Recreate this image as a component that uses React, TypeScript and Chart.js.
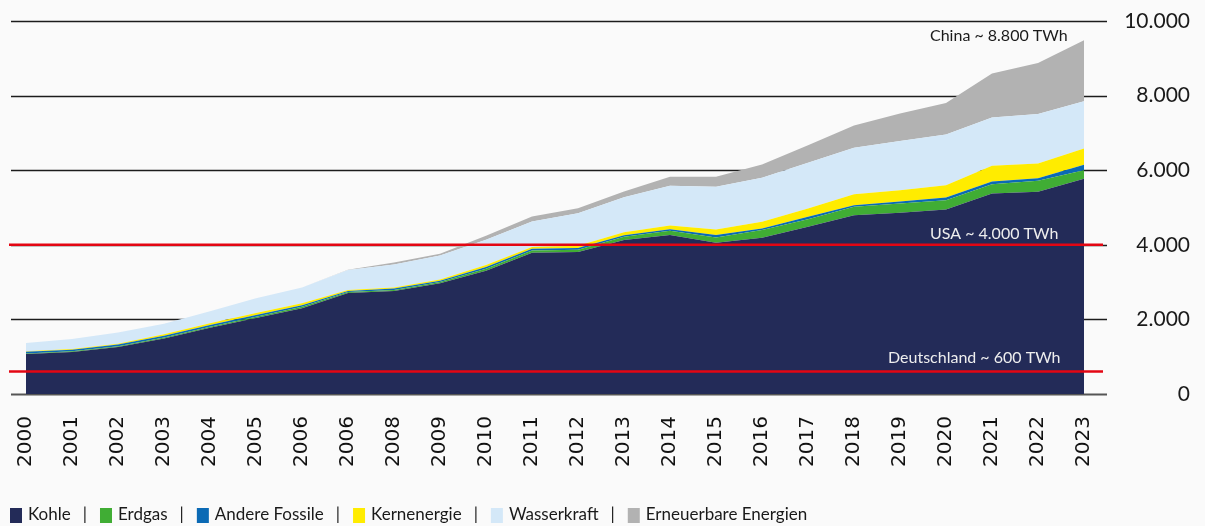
import React, { useEffect, useRef } from "react";
import { Chart, registerables } from "chart.js";

Chart.register(...registerables);

// ---- Data (TWh) ----
const categories = [
  "2000", "2001", "2002", "2003", "2004", "2005", "2006", "2006", "2008", "2009", "2010", "2011",
  "2012", "2013", "2014", "2015", "2016", "2017", "2018", "2019", "2020", "2021", "2022", "2023",
];
const kohle = [1070, 1125, 1260, 1490, 1775, 2036, 2300, 2705, 2759, 2966, 3303, 3790, 3805, 4126, 4260, 4054, 4188, 4483, 4795, 4857, 4948, 5377, 5420, 5768];
const erdgas = [15, 18, 20, 25, 30, 35, 40, 28, 32, 36, 55, 60, 65, 88, 115, 143, 206, 205, 223, 252, 249, 249, 294, 233];
const andereFossile = [45, 45, 45, 45, 45, 45, 40, 27, 35, 36, 45, 45, 45, 45, 45, 63, 45, 62, 45, 53, 72, 72, 72, 142];
const kernenergie = [17, 17, 25, 43, 50, 53, 55, 26, 32, 35, 53, 45, 61, 80, 95, 152, 177, 225, 295, 303, 330, 418, 394, 439];
const wasserkraft = [219, 268, 300, 280, 320, 400, 420, 536, 615, 640, 680, 686, 870, 935, 1070, 1142, 1179, 1222, 1241, 1321, 1358, 1297, 1329, 1267];
const erneuerbare = [0, 0, 0, 0, 0, 0, 0, 10, 55, 45, 108, 134, 134, 155, 242, 268, 358, 474, 599, 734, 847, 1178, 1366, 1635];

const seriesNames = ["Kohle", "Erdgas", "Andere Fossile", "Kernenergie", "Wasserkraft", "Erneuerbare Energien"];
const seriesValues = [kohle, erdgas, andereFossile, kernenergie, wasserkraft, erneuerbare];
const seriesColors = ["#232b58", "#40ad34", "#0b6ab5", "#ffec00", "#d4e8f8", "#b2b2b2"];

const yTickValues = [0, 2000, 4000, 6000, 8000, 10000];
const referenceValues = [4000, 600];
const referenceLabels = ["USA ~ 4.000 TWh", "Deutschland ~ 600 TWh"];
const chinaLabel = "China ~ 8.800 TWh";

const formatDE = (v: number) => String(Math.round(v)).replace(/\B(?=(\d{3})+(?!\d))/g, ".");

const decorPlugin = {
  id: "decor",
  beforeDraw(chart: any) {
    const { ctx, width, height } = chart;
    ctx.save();
    ctx.fillStyle = "#fafafa";
    ctx.fillRect(0, 0, width, height);
    ctx.restore();
  },
  beforeDatasetsDraw(chart: any) {
    const { ctx, chartArea } = chart;
    const y = chart.scales.y;
    ctx.save();
    yTickValues.forEach((v) => {
      const py = Math.round(y.getPixelForValue(v)) + 0.5;
      ctx.strokeStyle = v === 0 ? "#555555" : "#1c1c1c";
      ctx.lineWidth = v === 0 ? 2 : 1.5;
      ctx.beginPath();
      ctx.moveTo(chartArea.left - 15, py);
      ctx.lineTo(chartArea.right + 23, py);
      ctx.stroke();
    });
    ctx.restore();
  },
  afterDatasetsDraw(chart: any) {
    const { ctx, chartArea } = chart;
    const y = chart.scales.y;
    ctx.save();
    referenceValues.forEach((v) => {
      const py = y.getPixelForValue(v);
      ctx.strokeStyle = "#e30613";
      ctx.lineWidth = 2.5;
      ctx.beginPath();
      ctx.moveTo(chartArea.left - 17, py);
      ctx.lineTo(chartArea.right + 19, py);
      ctx.stroke();
    });
    ctx.font = "16px Lato";
    ctx.textAlign = "left";
    ctx.textBaseline = "alphabetic";
    ctx.fillStyle = "#1a1a1a";
    ctx.fillText(chinaLabel, 930, 41);
    ctx.fillStyle = "#eeeeee";
    ctx.fillText(referenceLabels[0], 930, 239);
    ctx.fillText(referenceLabels[1], 888, 363);
    ctx.restore();
  },
  afterDraw(chart: any) {
    const { ctx } = chart;
    ctx.save();
    ctx.font = "17px Lato";
    ctx.textBaseline = "middle";
    ctx.textAlign = "left";
    let x = 10;
    const cy = 515;
    seriesNames.forEach((name, i) => {
      ctx.fillStyle = seriesColors[i];
      ctx.fillRect(x, 508, 12, 15);
      x += 18;
      ctx.fillStyle = "#1a1a1a";
      ctx.fillText(name, x, cy);
      x += ctx.measureText(name).width;
      if (i < seriesNames.length - 1) {
        x += 12;
        ctx.fillText("|", x, cy);
        x += ctx.measureText("|").width + 13;
      }
    });
    ctx.restore();
  },
};

export default function App() {
  const canvasRef = useRef<HTMLCanvasElement | null>(null);

  useEffect(() => {
    const canvas = canvasRef.current;
    if (!canvas) return;
    const chart = new Chart(canvas, {
      type: "line",
      data: {
        labels: categories,
        datasets: seriesValues.map((vals, i) => ({
          label: seriesNames[i],
          data: vals,
          backgroundColor: seriesColors[i],
          borderColor: seriesColors[i],
          borderWidth: 0,
          pointRadius: 0,
          pointHoverRadius: 0,
          tension: 0,
          fill: i === 0 ? "origin" : "-1",
        })),
      },
      options: {
        animation: false,
        responsive: true,
        maintainAspectRatio: false,
        layout: { padding: { left: 26, right: 15, top: 21, bottom: 52 } },
        plugins: {
          legend: { display: false },
          tooltip: { enabled: false },
          title: { display: false },
        },
        scales: {
          x: {
            type: "category",
            offset: false,
            grid: { display: false, drawTicks: false },
            border: { display: false },
            ticks: {
              autoSkip: false,
              minRotation: 90,
              maxRotation: 90,
              padding: 22,
              color: "#111111",
              font: { family: "'DejaVu Sans'", size: 20 },
            },
            afterFit: (scale: any) => {
              scale.height = 80;
            },
          },
          y: {
            position: "right",
            stacked: true,
            min: 0,
            max: 10000,
            grid: {
              display: true,
              drawOnChartArea: false,
              drawTicks: true,
              tickLength: 21,
              color: "rgba(0,0,0,0)",
            },
            border: { display: false },
            ticks: {
              stepSize: 2000,
              padding: 0,
              crossAlign: "far",
              color: "#1a1a1a",
              font: { family: "Lato", size: 21 },
              callback: (v: any) => formatDE(Number(v)),
            },
            afterFit: (scale: any) => {
              scale.width = 106;
            },
          },
        },
      },
      plugins: [decorPlugin],
    });
    if ((document as any).fonts && (document as any).fonts.load) {
      Promise.all([
        (document as any).fonts.load("16px Lato"),
        (document as any).fonts.load("20px 'DejaVu Sans'"),
      ]).then(() => chart.update()).catch(() => {});
    }
    return () => chart.destroy();
  }, []);

  return (
    <div style={{ position: "absolute", left: 0, top: 0, width: 1205, height: 526, background: "#fafafa" }}>
      <canvas ref={canvasRef} />
    </div>
  );
}
